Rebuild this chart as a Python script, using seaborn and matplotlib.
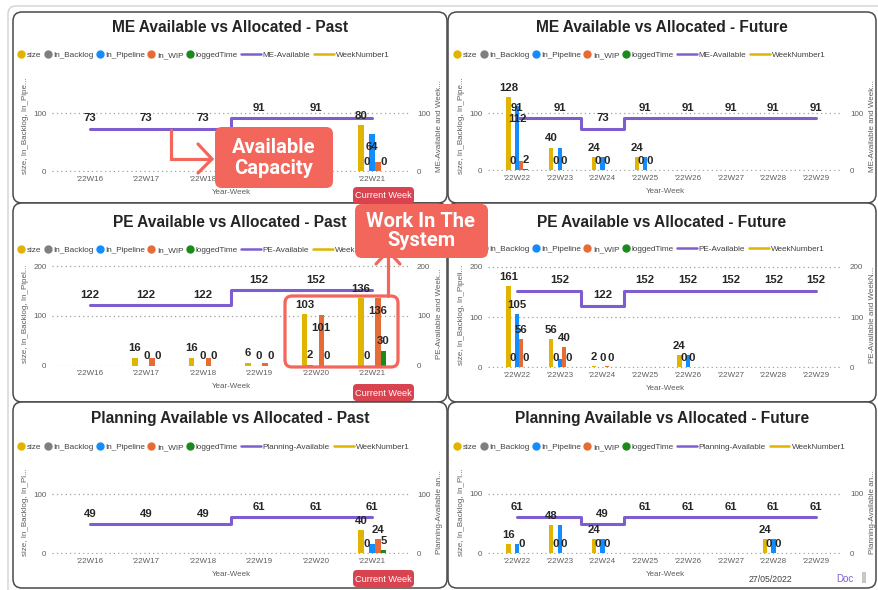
import numpy as np
import pandas as pd
from matplotlib import pyplot as plt
from matplotlib.patches import FancyBboxPatch, Rectangle
from matplotlib.lines import Line2D
import seaborn as sns

sns.set_style('white')
plt.rcParams['font.family'] = ['Liberation Sans', 'DejaVu Sans']

W, H = 879, 590

weeks_past = ["'22W16", "'22W17", "'22W18", "'22W19", "'22W20", "'22W21"]
weeks_future = ["'22W22", "'22W23", "'22W24", "'22W25", "'22W26", "'22W27", "'22W28", "'22W29"]
series = ['size', 'In_Backlog', 'In_Pipeline', 'In_WIP', 'loggedTime']
series_colors = ['#E0B400', '#7F7F7F', '#118DFF', '#E66C37', '#1B8A1B']
purple = '#7E5ECF'

# ME - past
me_past_size = [0, 0, 0, 0, 0, 80]
me_past_backlog = [0, 0, 0, 0, 0, 0]
me_past_pipeline = [0, 0, 0, 0, 0, 64]
me_past_wip = [0, 0, 0, 0, 0, 16]
me_past_logged = [0, 0, 0, 0, 0, 0]
me_past_avail = [73, 73, 73, 91, 91, 91]
me_past_hide = [('In_WIP', "'22W21")]
me_past_inside = [('In_Pipeline', "'22W21")]
me_past_line_hide = ["'22W21"]

# ME - future
me_fut_size = [128, 40, 24, 24, 0, 0, 0, 0]
me_fut_backlog = [0, 0, 0, 0, 0, 0, 0, 0]
me_fut_pipeline = [112, 40, 24, 24, 0, 0, 0, 0]
me_fut_wip = [16, 0, 0, 0, 0, 0, 0, 0]
me_fut_logged = [2, 0, 0, 0, 0, 0, 0, 0]
me_fut_avail = [91, 91, 73, 91, 91, 91, 91, 91]
me_fut_hide = [('In_WIP', "'22W22"),
               ('In_Pipeline', "'22W23"), ('loggedTime', "'22W23"),
               ('In_Pipeline', "'22W24"), ('loggedTime', "'22W24"),
               ('In_Pipeline', "'22W25"), ('loggedTime', "'22W25")]
me_fut_inside = [('In_Pipeline', "'22W22")]
me_fut_line_hide = []

# PE - past
pe_past_size = [0, 16, 16, 6, 103, 136]
pe_past_backlog = [0, 0, 0, 0, 2, 0]
pe_past_pipeline = [0, 0, 0, 0, 0, 0]
pe_past_wip = [0, 16, 16, 5, 101, 136]
pe_past_logged = [0, 0, 0, 0, 0, 30]
pe_past_avail = [122, 122, 122, 152, 152, 152]
pe_past_hide = [('In_Backlog', "'22W17"), ('In_WIP', "'22W17"),
                ('In_Backlog', "'22W18"), ('In_WIP', "'22W18"),
                ('In_Backlog', "'22W19"), ('In_WIP', "'22W19"),
                ('In_Pipeline', "'22W20"), ('In_Pipeline', "'22W21")]
pe_past_inside = [('In_WIP', "'22W20"), ('In_WIP', "'22W21")]
pe_past_line_hide = ["'22W21"]

# PE - future
pe_fut_size = [161, 56, 2, 0, 24, 0, 0, 0]
pe_fut_backlog = [0, 0, 0, 0, 0, 0, 0, 0]
pe_fut_pipeline = [105, 16, 0, 0, 24, 0, 0, 0]
pe_fut_wip = [56, 40, 2, 0, 0, 0, 0, 0]
pe_fut_logged = [0, 0, 0, 0, 0, 0, 0, 0]
pe_fut_avail = [152, 152, 122, 152, 152, 152, 152, 152]
pe_fut_hide = [('In_Pipeline', "'22W23"),
               ('In_Backlog', "'22W24"), ('In_WIP', "'22W24"),
               ('In_Pipeline', "'22W26"), ('loggedTime', "'22W26")]
pe_fut_inside = []
pe_fut_line_hide = ["'22W22"]

# Planning - past
pl_past_size = [0, 0, 0, 0, 0, 40]
pl_past_backlog = [0, 0, 0, 0, 0, 0]
pl_past_pipeline = [0, 0, 0, 0, 0, 16]
pl_past_wip = [0, 0, 0, 0, 0, 24]
pl_past_logged = [0, 0, 0, 0, 0, 5]
pl_past_avail = [49, 49, 49, 61, 61, 61]
pl_past_hide = [('In_Pipeline', "'22W21")]
pl_past_inside = []
pl_past_line_hide = []

# Planning - future
pl_fut_size = [16, 48, 24, 0, 0, 0, 24, 0]
pl_fut_backlog = [0, 0, 0, 0, 0, 0, 0, 0]
pl_fut_pipeline = [16, 48, 24, 0, 0, 0, 24, 0]
pl_fut_wip = [0, 0, 0, 0, 0, 0, 0, 0]
pl_fut_logged = [0, 0, 0, 0, 0, 0, 0, 0]
pl_fut_avail = [61, 61, 49, 61, 61, 61, 61, 61]
pl_fut_hide = [('In_Backlog', "'22W22"), ('In_Pipeline', "'22W22"), ('loggedTime', "'22W22"),
               ('In_Pipeline', "'22W23"), ('loggedTime', "'22W23"),
               ('In_Pipeline', "'22W24"), ('loggedTime', "'22W24"),
               ('In_Pipeline', "'22W28"), ('loggedTime', "'22W28")]
pl_fut_inside = []
pl_fut_line_hide = ["'22W23"]

fig = plt.figure(figsize=(W / 100, H / 100), dpi=100)

# background layer in pixel coordinates (cards)
bg = fig.add_axes([0, 0, 1, 1], zorder=-5)
bg.set_xlim(0, W)
bg.set_ylim(H, 0)
bg.axis('off')
bg.add_patch(FancyBboxPatch((8, 6), W + 20, H + 20, boxstyle='round,pad=0,rounding_size=8',
                            fc='white', ec='#D2D2D2', lw=1))
for (x0, y0, x1, y1) in [(13, 12, 447, 203), (448, 12, 876, 203), (13, 203, 447, 402),
                         (448, 203, 876, 402), (13, 402, 447, 588), (448, 402, 876, 588)]:
    bg.add_patch(FancyBboxPatch((x0, y0), x1 - x0, y1 - y0, boxstyle='round,pad=0,rounding_size=9',
                                fc='white', ec='#4A4A4A', lw=1.1))

grey_txt = '#605E5C'


def draw_panel(rect, ytop, yticks, xlim, weeks, vals, avail, hide, inside, line_hide, team,
               ylab_l, ylab_r, title, title_y, legend_x, legend_y):
    x0, x1, y_top, y_zero = rect
    ax = fig.add_axes([x0 / W, 1 - y_zero / H, (x1 - x0) / W, (y_zero - y_top) / H])
    ax.set_facecolor('none')

    df = pd.DataFrame([(w, s, v[i]) for s, v in zip(series, vals) for i, w in enumerate(weeks)],
                      columns=['week', 'series', 'value'])
    sns.barplot(data=df, x='week', y='value', hue='series', order=weeks, hue_order=series,
                palette=series_colors, saturation=1, width=0.5, errorbar=None, legend=False,
                linewidth=0, ax=ax)

    line_df = pd.DataFrame({'week': weeks, 'available': avail})
    sns.lineplot(data=line_df, x='week', y='available', color=purple, lw=2.2,
                 drawstyle='steps-mid', sort=False, ax=ax, zorder=4)

    # data labels
    for k, (s, cont) in enumerate(zip(series, ax.containers)):
        out_lbl, in_lbl = [], []
        for j, w in enumerate(weeks):
            active = any(v[j] > 0 for v in vals)
            txt = str(vals[k][j]) if active and (s, w) not in hide else ''
            if (s, w) in inside:
                out_lbl.append('')
                in_lbl.append(txt)
            else:
                out_lbl.append(txt)
                in_lbl.append('')
        ax.bar_label(cont, labels=out_lbl, padding=3, fontsize=8.2, fontweight='bold', zorder=6)
        ax.bar_label(cont, labels=in_lbl, padding=-12.5, fontsize=8.2, fontweight='bold', zorder=6)

    for w, v in zip(weeks, avail):
        if w in line_hide:
            continue
        ax.annotate(str(v), xy=(w, v), xytext=(0, 4), textcoords='offset points',
                    ha='center', va='bottom', fontsize=8.2, fontweight='bold', zorder=6)

    ax.set_xlim(*xlim)
    ax.set_ylim(-1, ytop)
    ax.set_yticks(yticks)
    ax.yaxis.grid(True, linestyle=(0, (1, 2.5)), color='#A0A0A0', lw=0.9)
    ax.xaxis.grid(False)
    sns.despine(ax=ax, left=True, bottom=True)
    ax.tick_params(axis='both', length=0, labelsize=5.8, labelcolor=grey_txt)
    ax.tick_params(axis='x', pad=3)
    ax.tick_params(axis='y', pad=4)
    ax.set_xlabel('Year-Week', fontsize=5.8, color=grey_txt, labelpad=4)
    ax.set_ylabel(ylab_l, fontsize=5.8, color=grey_txt, labelpad=3)

    ax2 = ax.twinx()
    ax2.set_ylim(ax.get_ylim())
    ax2.set_yticks(yticks)
    sns.despine(ax=ax2, left=True, bottom=True, right=True)
    ax2.tick_params(axis='y', length=0, labelsize=5.8, labelcolor=grey_txt, pad=5)
    ax2.set_ylabel(ylab_r, fontsize=5.8, color=grey_txt, labelpad=4)

    # title centred on the card
    card_cx = (13 + 447) / 2 if x0 < 440 else (448 + 876) / 2
    fig.text(card_cx / W, 1 - title_y / H, title,
             ha='center', va='center', fontsize=11.2, fontweight='bold', color='#252423')

    # legend row
    mk = [Line2D([], [], marker='o', ls='', ms=5, mfc=c, mec=c) for c in series_colors]
    leg1 = fig.legend(mk, series, loc='center left', bbox_to_anchor=(legend_x / W, 1 - legend_y / H),
                      ncol=5, frameon=False, fontsize=5.9, handlelength=1.05, handletextpad=0.2,
                      columnspacing=0.2, borderpad=0, borderaxespad=0, labelcolor='#404040')
    fig.canvas.draw()
    bb = leg1.get_window_extent()
    ln = [Line2D([], [], color=purple, lw=1.8), Line2D([], [], color=series_colors[0], lw=1.8)]
    fig.legend(ln, [f'{team}-Available', 'WeekNumber1'], loc='center left',
               bbox_to_anchor=((bb.x1 + 3) / W, 1 - legend_y / H), ncol=2, frameon=False,
               fontsize=5.9, handlelength=2.4, handletextpad=0.25, columnspacing=0.5,
               borderpad=0, borderaxespad=0, labelcolor='#404040')
    return ax


left_xlim = (-0.67, 5.67)
right_xlim = (-0.68, 7.63)

draw_panel((52, 410, 80, 172), 157, [0, 100], left_xlim, weeks_past,
           [me_past_size, me_past_backlog, me_past_pipeline, me_past_wip, me_past_logged],
           me_past_avail, me_past_hide, me_past_inside, me_past_line_hide, 'ME',
           'size, In_Backlog, In_Pipe...', 'ME-Available and Week...',
           'ME Available vs Allocated - Past', 28, 17, 55)
draw_panel((488, 843, 80, 171), 158, [0, 100], right_xlim, weeks_future,
           [me_fut_size, me_fut_backlog, me_fut_pipeline, me_fut_wip, me_fut_logged],
           me_fut_avail, me_fut_hide, me_fut_inside, me_fut_line_hide, 'ME',
           'size, In_Backlog, In_Pipe...', 'ME-Available and Week...',
           'ME Available vs Allocated - Future', 28, 453, 55)
draw_panel((52, 410, 262, 366), 209, [0, 100, 200], left_xlim, weeks_past,
           [pe_past_size, pe_past_backlog, pe_past_pipeline, pe_past_wip, pe_past_logged],
           pe_past_avail, pe_past_hide, pe_past_inside, pe_past_line_hide, 'PE',
           'size, In_Backlog, In_Pipel...', 'PE-Available and Week...',
           'PE Available vs Allocated - Past', 222, 17, 250)
draw_panel((488, 843, 262, 368), 209, [0, 100, 200], right_xlim, weeks_future,
           [pe_fut_size, pe_fut_backlog, pe_fut_pipeline, pe_fut_wip, pe_fut_logged],
           pe_fut_avail, pe_fut_hide, pe_fut_inside, pe_fut_line_hide, 'PE',
           'size, In_Backlog, In_Pipeli...', 'PE-Available and WeekN...',
           'PE Available vs Allocated - Future', 222, 453, 249)
draw_panel((52, 410, 470, 554), 140.7, [0, 100], left_xlim, weeks_past,
           [pl_past_size, pl_past_backlog, pl_past_pipeline, pl_past_wip, pl_past_logged],
           pl_past_avail, pl_past_hide, pl_past_inside, pl_past_line_hide, 'Planning',
           'size, In_Backlog, In_Pl...', 'Planning-Available an...',
           'Planning Available vs Allocated - Past', 419, 17, 447)
draw_panel((488, 843, 470, 554), 140, [0, 100], right_xlim, weeks_future,
           [pl_fut_size, pl_fut_backlog, pl_fut_pipeline, pl_fut_wip, pl_fut_logged],
           pl_fut_avail, pl_fut_hide, pl_fut_inside, pl_fut_line_hide, 'Planning',
           'size, In_Backlog, In_Pl...', 'Planning-Available an...',
           'Planning Available vs Allocated - Future', 419, 453, 447)

# overlay layer (callouts, tags, footer)
ov = fig.add_axes([0, 0, 1, 1], zorder=20)
ov.set_xlim(0, W)
ov.set_ylim(H, 0)
ov.axis('off')
ov.set_facecolor('none')

coral = '#F2665B'
for (y0, y1) in [(187, 204), (384, 401), (570, 587)]:
    ov.add_patch(FancyBboxPatch((353, y0), 61, y1 - y0, boxstyle='round,pad=0,rounding_size=4',
                                fc='#D8434F', ec='none'))
    ov.text(383.5, (y0 + y1) / 2 + 0.5, 'Current Week', ha='center', va='center',
            fontsize=6.6, color='white')

# Available Capacity callout
ov.plot([171, 171, 211], [130, 159, 159], color=coral, lw=2.3, solid_joinstyle='miter')
ov.plot([198, 212, 198], [144, 159, 173], color=coral, lw=2.3, solid_joinstyle='miter')
ov.add_patch(FancyBboxPatch((215, 127), 118, 61, boxstyle='round,pad=0,rounding_size=7',
                            fc=coral, ec='none'))
ov.text(274, 158, 'Available\nCapacity', ha='center', va='center', fontsize=14.5,
        fontweight='bold', color='white', family='Roboto', linespacing=1.1)

# Work In The System callout
ov.add_patch(FancyBboxPatch((285, 296), 113, 71, boxstyle='round,pad=0,rounding_size=7',
                            fc='none', ec=coral, lw=2.3))
ov.plot([388, 388], [296, 252], color=coral, lw=2.3)
ov.plot([376, 388, 400], [264, 251, 264], color=coral, lw=2.3, solid_joinstyle='miter')
ov.add_patch(FancyBboxPatch((355, 204), 133, 54, boxstyle='round,pad=0,rounding_size=7',
                            fc=coral, ec='none'))
ov.text(421, 231, 'Work In The\nSystem', ha='center', va='center', fontsize=14.5,
        fontweight='bold', color='white', family='Roboto', linespacing=1.05)

# footer
ov.text(770, 579, '27/05/2022', ha='center', va='center', fontsize=6.3, color='#404040')
ov.text(845, 579.5, 'Doc', ha='center', va='center', fontsize=7, color=purple)
ov.add_patch(Rectangle((862, 572), 4, 11, fc='#C8C8C8', ec='none'))

fig.savefig('out.png', dpi=100)
